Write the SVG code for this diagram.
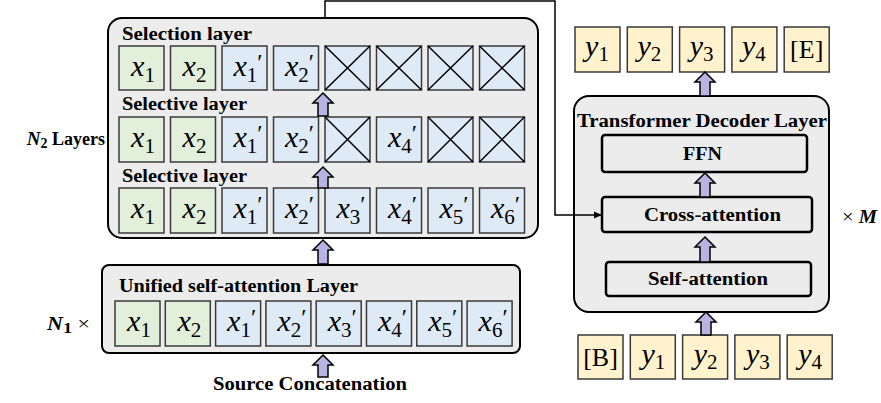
<svg xmlns="http://www.w3.org/2000/svg" width="881" height="403" viewBox="0 0 881 403">
<style>
.box{fill:#ececec;stroke:#000;stroke-width:2}
.sub{fill:#ececec;stroke:#000;stroke-width:2.5}
.g{fill:#e2efda;stroke:#3a3a3a;stroke-width:1.5}
.b{fill:#deebf7;stroke:#3a3a3a;stroke-width:1.5}
.y{fill:#fff2cc;stroke:#3a3a3a;stroke-width:1.5}
.xx{stroke:#000;stroke-width:1.5}
text{font-family:"Liberation Serif","Times New Roman","DejaVu Serif",serif;fill:#000}
.lbl{font-weight:bold;font-size:18px}
.m{font-style:italic;font-size:30px;text-anchor:middle}
.m tspan.s{font-style:normal;font-size:21px}
.m tspan.p{font-style:normal;font-size:24px}
.t{font-size:26px;text-anchor:middle}
.arr{fill:#b9b3e3;stroke:#000;stroke-width:1.5;stroke-linejoin:miter}
.conn{fill:none;stroke:#000;stroke-width:1.5}
</style>
<defs>
<marker id="ah" markerWidth="8" markerHeight="8" refX="7" refY="4" orient="auto" markerUnits="userSpaceOnUse">
<path d="M0,0.5 L8,4 L0,7.5 Z" fill="#000"/>
</marker>
</defs>

<g id="selective-stack">
<rect class="box" x="108" y="18" width="430" height="220" rx="14"/>
<text class="lbl" x="122" y="40" textLength="130" lengthAdjust="spacingAndGlyphs">Selection layer</text>
<text class="lbl" x="122" y="110" textLength="125" lengthAdjust="spacingAndGlyphs">Selective layer</text>
<text class="lbl" x="122" y="182" textLength="125" lengthAdjust="spacingAndGlyphs">Selective layer</text>
<rect class="g" x="119" y="46" width="45" height="44"/>
<rect class="g" x="170.5" y="46" width="45" height="44"/>
<rect class="b" x="222" y="46" width="45" height="44"/>
<rect class="b" x="273.5" y="46" width="45" height="44"/>
<rect class="b" x="325" y="46" width="45" height="44"/>
<rect class="b" x="376.5" y="46" width="45" height="44"/>
<rect class="b" x="428" y="46" width="45" height="44"/>
<rect class="b" x="479.5" y="46" width="45" height="44"/>
<path class="xx" d="M325,46 L370,90 M370,46 L325,90 M376.5,46 L421.5,90 M421.5,46 L376.5,90 M428,46 L473,90 M473,46 L428,90 M479.5,46 L524.5,90 M524.5,46 L479.5,90"/>
<text class="m" x="143" y="76">x<tspan class="s" dy="6">1</tspan></text>
<text class="m" x="194.5" y="76">x<tspan class="s" dy="6">2</tspan></text>
<text class="m" x="248" y="76">x<tspan class="s" dy="6">1</tspan><tspan class="p" dy="-12">′</tspan></text>
<text class="m" x="299.5" y="76">x<tspan class="s" dy="6">2</tspan><tspan class="p" dy="-12">′</tspan></text>
<rect class="g" x="119" y="117" width="45" height="45"/>
<rect class="g" x="170.5" y="117" width="45" height="45"/>
<rect class="b" x="222" y="117" width="45" height="45"/>
<rect class="b" x="273.5" y="117" width="45" height="45"/>
<rect class="b" x="325" y="117" width="45" height="45"/>
<rect class="b" x="376.5" y="117" width="45" height="45"/>
<rect class="b" x="428" y="117" width="45" height="45"/>
<rect class="b" x="479.5" y="117" width="45" height="45"/>
<path class="xx" d="M325,117 L370,162 M370,117 L325,162 M428,117 L473,162 M473,117 L428,162 M479.5,117 L524.5,162 M524.5,117 L479.5,162"/>
<text class="m" x="143" y="147">x<tspan class="s" dy="6">1</tspan></text>
<text class="m" x="194.5" y="147">x<tspan class="s" dy="6">2</tspan></text>
<text class="m" x="248" y="147">x<tspan class="s" dy="6">1</tspan><tspan class="p" dy="-12">′</tspan></text>
<text class="m" x="299.5" y="147">x<tspan class="s" dy="6">2</tspan><tspan class="p" dy="-12">′</tspan></text>
<text class="m" x="402.5" y="147">x<tspan class="s" dy="6">4</tspan><tspan class="p" dy="-12">′</tspan></text>
<rect class="g" x="119" y="188" width="45" height="45"/>
<rect class="g" x="170.5" y="188" width="45" height="45"/>
<rect class="b" x="222" y="188" width="45" height="45"/>
<rect class="b" x="273.5" y="188" width="45" height="45"/>
<rect class="b" x="325" y="188" width="45" height="45"/>
<rect class="b" x="376.5" y="188" width="45" height="45"/>
<rect class="b" x="428" y="188" width="45" height="45"/>
<rect class="b" x="479.5" y="188" width="45" height="45"/>
<text class="m" x="143" y="218">x<tspan class="s" dy="6">1</tspan></text>
<text class="m" x="194.5" y="218">x<tspan class="s" dy="6">2</tspan></text>
<text class="m" x="248" y="218">x<tspan class="s" dy="6">1</tspan><tspan class="p" dy="-12">′</tspan></text>
<text class="m" x="299.5" y="218">x<tspan class="s" dy="6">2</tspan><tspan class="p" dy="-12">′</tspan></text>
<text class="m" x="351" y="218">x<tspan class="s" dy="6">3</tspan><tspan class="p" dy="-12">′</tspan></text>
<text class="m" x="402.5" y="218">x<tspan class="s" dy="6">4</tspan><tspan class="p" dy="-12">′</tspan></text>
<text class="m" x="454" y="218">x<tspan class="s" dy="6">5</tspan><tspan class="p" dy="-12">′</tspan></text>
<text class="m" x="505.5" y="218">x<tspan class="s" dy="6">6</tspan><tspan class="p" dy="-12">′</tspan></text>
</g>

<g id="n2-label">
<text class="lbl" x="105" y="145" font-size="17" text-anchor="end"><tspan font-style="italic" font-size="19">N</tspan><tspan font-size="14" dy="3">2</tspan><tspan dy="-3"> Layers</tspan></text>
</g>

<g id="unified-layer">
<rect class="box" x="102" y="265" width="418" height="88" rx="7"/>
<text class="lbl" x="119" y="292" textLength="239" lengthAdjust="spacingAndGlyphs">Unified self-attention Layer</text>
<rect class="g" x="115" y="301" width="45" height="45"/>
<rect class="g" x="165.3" y="301" width="45" height="45"/>
<rect class="b" x="215.6" y="301" width="45" height="45"/>
<rect class="b" x="265.9" y="301" width="45" height="45"/>
<rect class="b" x="316.2" y="301" width="45" height="45"/>
<rect class="b" x="366.5" y="301" width="45" height="45"/>
<rect class="b" x="416.8" y="301" width="45" height="45"/>
<rect class="b" x="467.1" y="301" width="45" height="45"/>
<text class="m" x="139" y="331">x<tspan class="s" dy="6">1</tspan></text>
<text class="m" x="189.3" y="331">x<tspan class="s" dy="6">2</tspan></text>
<text class="m" x="241.6" y="331">x<tspan class="s" dy="6">1</tspan><tspan class="p" dy="-12">′</tspan></text>
<text class="m" x="291.9" y="331">x<tspan class="s" dy="6">2</tspan><tspan class="p" dy="-12">′</tspan></text>
<text class="m" x="342.2" y="331">x<tspan class="s" dy="6">3</tspan><tspan class="p" dy="-12">′</tspan></text>
<text class="m" x="392.5" y="331">x<tspan class="s" dy="6">4</tspan><tspan class="p" dy="-12">′</tspan></text>
<text class="m" x="442.8" y="331">x<tspan class="s" dy="6">5</tspan><tspan class="p" dy="-12">′</tspan></text>
<text class="m" x="493.1" y="331">x<tspan class="s" dy="6">6</tspan><tspan class="p" dy="-12">′</tspan></text>
</g>

<g id="n1-label">
<text class="lbl" x="47" y="330" font-size="20" textLength="43" lengthAdjust="spacingAndGlyphs"><tspan font-style="italic">N</tspan><tspan font-size="15" dy="3">1</tspan><tspan dy="-3" font-weight="normal"> ×</tspan></text>
</g>

<g id="source-label">
<text class="lbl" x="213" y="390" font-size="20" textLength="194" lengthAdjust="spacingAndGlyphs">Source Concatenation</text>
</g>

<g id="outputs">
<rect class="y" x="575" y="27" width="45" height="45"/>
<rect class="y" x="627.3" y="27" width="45" height="45"/>
<rect class="y" x="679.6" y="27" width="45" height="45"/>
<rect class="y" x="731.9" y="27" width="45" height="45"/>
<rect class="y" x="784.2" y="27" width="45" height="45"/>
<text class="m" x="597" y="56">y<tspan class="s" dy="5">1</tspan></text>
<text class="m" x="649.3" y="56">y<tspan class="s" dy="5">2</tspan></text>
<text class="m" x="701.6" y="56">y<tspan class="s" dy="5">3</tspan></text>
<text class="m" x="753.9" y="56">y<tspan class="s" dy="5">4</tspan></text>
<text class="t" x="806.7" y="58">[E]</text>
</g>

<g id="decoder">
<rect class="box" x="574" y="96" width="255" height="216" rx="15"/>
<text class="lbl" x="577" y="127" textLength="250" lengthAdjust="spacingAndGlyphs">Transformer Decoder Layer</text>
</g>
<g id="ffn">
<rect class="sub" x="602" y="135" width="205" height="37" rx="3"/>
<text class="lbl" x="683" y="160" textLength="39" lengthAdjust="spacingAndGlyphs">FFN</text>
</g>
<g id="cross-attention">
<rect class="sub" x="602" y="197" width="210" height="35" rx="3"/>
<text class="lbl" x="644" y="221" font-size="19" textLength="137" lengthAdjust="spacingAndGlyphs">Cross-attention</text>
</g>
<g id="self-attention">
<rect class="sub" x="606" y="262" width="205" height="34" rx="3"/>
<text class="lbl" x="648" y="285" font-size="19" textLength="120" lengthAdjust="spacingAndGlyphs">Self-attention</text>
</g>
<g id="m-label">
<text class="lbl" x="842" y="223" font-size="21" textLength="35" lengthAdjust="spacingAndGlyphs"><tspan font-weight="normal">× </tspan><tspan font-style="italic">M</tspan></text>
</g>

<g id="inputs">
<rect class="y" x="578" y="335" width="45" height="44"/>
<rect class="y" x="630.3" y="335" width="45" height="44"/>
<rect class="y" x="682.6" y="335" width="45" height="44"/>
<rect class="y" x="734.9" y="335" width="45" height="44"/>
<rect class="y" x="787.2" y="335" width="45" height="44"/>
<text class="t" x="600.5" y="366">[B]</text>
<text class="m" x="653.3" y="364">y<tspan class="s" dy="5">1</tspan></text>
<text class="m" x="705.6" y="364">y<tspan class="s" dy="5">2</tspan></text>
<text class="m" x="757.9" y="364">y<tspan class="s" dy="5">3</tspan></text>
<text class="m" x="810.2" y="364">y<tspan class="s" dy="5">4</tspan></text>
</g>

<g id="connectors">
<path class="conn" d="M325,18 V1 H555 V215 H601" marker-end="url(#ah)"/>
<path class="arr" d="M323,93 L333,103 L328,103 L328,116 L318,116 L318,103 L313,103 Z"/>
<path class="arr" d="M323,167 L333,177 L328,177 L328,188 L318,188 L318,177 L313,177 Z"/>
<path class="arr" d="M323,240 L333,250 L328,250 L328,264 L318,264 L318,250 L313,250 Z"/>
<path class="arr" d="M323,355 L333,365 L328,365 L328,377 L318,377 L318,365 L313,365 Z"/>
<path class="arr" d="M705,72 L715,82 L710,82 L710,96 L700,96 L700,82 L695,82 Z"/>
<path class="arr" d="M705,173 L715,183 L710,183 L710,197 L700,197 L700,183 L695,183 Z"/>
<path class="arr" d="M705,237 L715,247 L710,247 L710,262 L700,262 L700,247 L695,247 Z"/>
<path class="arr" d="M706,312 L716,322 L711,322 L711,335 L701,335 L701,322 L696,322 Z"/>
</g>
</svg>
